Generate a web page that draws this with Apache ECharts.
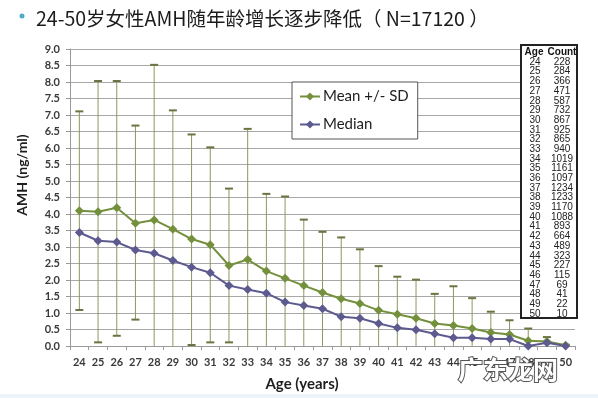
<!DOCTYPE html>
<html>
<head>
<meta charset="utf-8">
<script src="https://cdn.jsdelivr.net/npm/echarts@6/dist/echarts.min.js"></script>
<style>
  html, body { margin: 0; padding: 0; background: #fff; }
  #main { width: 598px; height: 398px; }
</style>
</head>
<body>
<div id="main"></div>
<script>
// ages on the x axis and in the table
const ages = [24, 25, 26, 27, 28, 29, 30, 31, 32, 33, 34, 35, 36, 37, 38, 39, 40, 41, 42, 43, 44, 45, 46, 47, 48, 49, 50];
const counts = [228, 284, 366, 471, 587, 732, 867, 925, 865, 940, 1019, 1161, 1097, 1234, 1233, 1170, 1088, 893, 664, 489, 323, 227, 115, 69, 41, 22, 10];

const meanVals = [4.10, 4.07, 4.19, 3.72, 3.82, 3.54, 3.24, 3.07, 2.44, 2.62, 2.27, 2.05, 1.83, 1.62, 1.43, 1.29, 1.08, 0.96, 0.84, 0.68, 0.62, 0.53, 0.41, 0.35, 0.16, 0.14, 0.02];
const medianVals = [3.44, 3.19, 3.15, 2.91, 2.81, 2.59, 2.39, 2.22, 1.83, 1.71, 1.60, 1.33, 1.23, 1.13, 0.89, 0.84, 0.68, 0.55, 0.49, 0.37, 0.25, 0.25, 0.21, 0.21, 0.00, 0.10, 0.00];
// mean + SD / mean - SD (null = below the axis)
const upperVals = [7.11, 8.03, 8.03, 6.68, 8.52, 7.14, 6.41, 6.02, 4.77, 6.58, 4.61, 4.53, 3.83, 3.46, 3.29, 2.93, 2.42, 2.10, 2.01, 1.58, 1.81, 1.45, 1.04, 0.78, 0.53, 0.27, 0.04];
const lowerVals = [1.09, 0.11, 0.31, 0.80, null, null, 0.03, 0.11, 0.11, null, null, null, null, null, null, null, null, null, null, null, null, null, null, null, null, null, null];

const yTicks = [0, 0.5, 1, 1.5, 2, 2.5, 3, 3.5, 4, 4.5, 5, 5.5, 6, 6.5, 7, 7.5, 8, 8.5, 9];

const titleText = '24-50岁女性AMH随年龄增长逐步降低（ N=17120 ）';
const greenColor = '#74903c';
const purpleColor = '#5c5a8e';
const labelFont = 'Lato, "Open Sans", sans-serif';
const tableFont = 'Arial, "Liberation Sans", sans-serif';

var chartDom = document.getElementById('main');
var myChart = echarts.init(chartDom, null, { renderer: 'canvas' });

const errData = ages.map((a, i) => [i, upperVals[i], lowerVals[i]]);

// table: header + rows
function cell(x, y, txt, bold) {
  return {
    type: 'text', x: x, y: y, z: 101,
    style: {
      text: txt, fontSize: 10, fontFamily: tableFont, fontWeight: bold ? 'bold' : 'normal',
      fill: bold ? '#111' : '#222', align: 'center', verticalAlign: 'middle'
    }
  };
}
const tableChildren = [
  { type: 'rect', z: 100, shape: { x: 521, y: 45, width: 56, height: 273 },
    style: { fill: '#fff', stroke: '#222', lineWidth: 2 } },
  cell(534, 52, 'Age', true),
  cell(562, 52, 'Count', true)
];
ages.forEach((a, i) => {
  const yy = 62 + i * 9.69;
  tableChildren.push(cell(535, yy, String(a), false));
  tableChildren.push(cell(562, yy, String(counts[i]), false));
});

var option = {
  backgroundColor: '#fff',
  animation: false,
  title: {
    text: titleText,
    left: 31,
    top: 4,
    textStyle: { fontSize: 19.5, fontWeight: 'normal', color: '#1b1b1b', fontFamily: '"Noto Sans CJK SC", sans-serif' }
  },
  legend: {
    left: 292,
    top: 82,
    orient: 'vertical',
    padding: [7, 9, 7, 7],
    itemGap: 13,
    itemWidth: 20,
    itemHeight: 10,
    backgroundColor: '#fff',
    borderColor: '#555',
    borderWidth: 1,
    data: ['Mean +/- SD', 'Median'],
    textStyle: { fontSize: 15, color: '#1e1e1e', fontFamily: labelFont, padding: [0, 0, 0, -2] }
  },
  grid: { left: 70, right: 23, top: 49, bottom: 52 },
  xAxis: {
    type: 'category',
    data: ages.map(String),
    boundaryGap: true,
    axisLine: { lineStyle: { color: '#9a9a9a', width: 1 } },
    axisTick: { show: true, length: 4, lineStyle: { color: '#9a9a9a' } },
    axisLabel: { margin: 11, fontSize: 11, fontWeight: 'bold', color: '#3a3a3a', fontFamily: labelFont, interval: 0 },
    splitLine: { show: false }
  },
  yAxis: {
    type: 'value',
    min: 0,
    max: 9,
    interval: 0.5,
    axisLine: { show: true, lineStyle: { color: '#9a9a9a' } },
    axisTick: { show: true, length: 4, lineStyle: { color: '#9a9a9a' } },
    axisLabel: { margin: 10, fontSize: 11, fontWeight: 'bold', color: '#3a3a3a', fontFamily: labelFont,
      formatter: v => yTicks.indexOf(v) >= 0 ? v.toFixed(1) : '' },
    splitLine: { lineStyle: { color: '#a8a8a8', width: 1 } }
  },
  series: [
    {
      name: 'SD',
      type: 'custom',
      z: 1,
      data: errData,
      renderItem: function (params, api) {
        const idx = api.value(0);
        const up = api.value(1);
        const lowRaw = errData[params.dataIndex][2];
        const low = lowRaw == null ? 0 : lowRaw;
        const pTop = api.coord([idx, up]);
        const pBot = api.coord([idx, low]);
        const capW = 4;
        const st = { stroke: '#8c9960', lineWidth: 1 };
        const capSt = { stroke: '#6a7440', lineWidth: 2 };
        const children = [
          { type: 'line', shape: { x1: pTop[0], y1: pTop[1], x2: pBot[0], y2: pBot[1] }, style: st },
          { type: 'line', shape: { x1: pTop[0] - capW, y1: pTop[1], x2: pTop[0] + capW, y2: pTop[1] }, style: capSt }
        ];
        if (lowRaw != null) {
          children.push({ type: 'line', shape: { x1: pBot[0] - capW, y1: pBot[1], x2: pBot[0] + capW, y2: pBot[1] }, style: capSt });
        }
        return { type: 'group', children: children };
      }
    },
    {
      name: 'Mean +/- SD',
      type: 'line',
      z: 3,
      data: meanVals,
      symbol: 'diamond',
      symbolSize: 9,
      itemStyle: { color: greenColor },
      lineStyle: { color: greenColor, width: 2 }
    },
    {
      name: 'Median',
      type: 'line',
      z: 3,
      data: medianVals,
      symbol: 'diamond',
      symbolSize: 9,
      itemStyle: { color: purpleColor },
      lineStyle: { color: purpleColor, width: 2 }
    }
  ],
  graphic: [
    { type: 'circle', shape: { cx: 22, cy: 16, r: 2.5 }, style: { fill: '#4bacc6' } },
    { type: 'text', x: 22, y: 175, rotation: Math.PI / 2,
      style: { text: 'AMH (ng/ml)', fontSize: 14, fontWeight: 'bold', fontFamily: labelFont, fill: '#1e1e1e', align: 'center', verticalAlign: 'middle' } },
    { type: 'text', x: 302, y: 384,
      style: { text: 'Age (years)', fontSize: 15, fontWeight: 'bold', fontFamily: labelFont, fill: '#1e1e1e', align: 'center', verticalAlign: 'middle' } },
    { type: 'group', z: 100, children: tableChildren },
    { type: 'text', x: 508, y: 369, z: 100,
      style: { text: '广东龙网', fontSize: 25, fontWeight: 'bold', fontFamily: '"Noto Sans CJK SC"', fill: '#fff', stroke: '#555', lineWidth: 2, align: 'center', verticalAlign: 'middle' } },
    { type: 'rect', shape: { x: 0, y: 394, width: 598, height: 4 }, style: { fill: '#eef3f8' } }
  ]
};

option && myChart.setOption(option);
</script>
</body>
</html>
